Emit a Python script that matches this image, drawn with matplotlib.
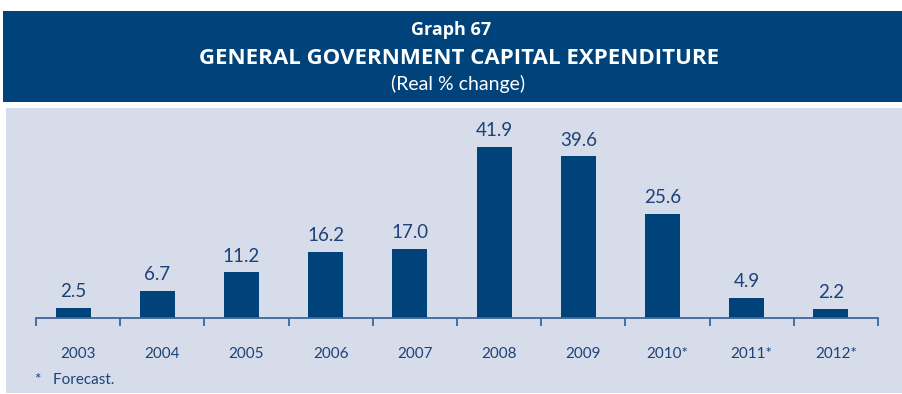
import matplotlib
matplotlib.use("Agg")
import matplotlib.pyplot as plt
import numpy as np
from matplotlib.patches import Rectangle

# Data
years = ["2003", "2004", "2005", "2006", "2007", "2008", "2009", "2010*", "2011*", "2012*"]
values = [2.5, 6.7, 11.2, 16.2, 17.0, 41.9, 39.6, 25.6, 4.9, 2.2]
value_labels = ["2.5", "6.7", "11.2", "16.2", "17.0", "41.9", "39.6", "25.6", "4.9", "2.2"]

title_line1 = "Graph 67"
title_line2 = "GENERAL GOVERNMENT CAPITAL EXPENDITURE"
title_line3 = "(Real % change)"
footnote = "*   Forecast."

W, H = 902, 394
DARK = "#00427a"
TEXT = "#1d4278"
PANEL = "#d6dcea"
AXIS = "#3d6697"
FONT = ["Lato", "DejaVu Sans"]
BOLD = ["Open Sans", "DejaVu Sans"]

fig = plt.figure(figsize=(W / 100, H / 100), dpi=100)
fig.patch.set_facecolor("white")

def px(x, y):
    return x / W, 1 - y / H

# header band
fig.patches.append(Rectangle((3 / W, 1 - 102 / H), (W - 3) / W, 91 / H,
                             transform=fig.transFigure, facecolor=DARK,
                             edgecolor="none", zorder=-2))
# chart panel
fig.patches.append(Rectangle((6 / W, 1 - 393 / H), (W - 6) / W, 285 / H,
                             transform=fig.transFigure, facecolor=PANEL,
                             edgecolor="none", zorder=-2))

fig.text(*px(451, 30), title_line1, color="white", fontsize=13, fontweight="bold",
         ha="center", va="center", family=BOLD)
fig.text(*px(459, 58), title_line2, color="white", fontsize=16, fontweight="bold",
         ha="center", va="center", family=BOLD)
fig.text(*px(458, 84), title_line3, color="white", fontsize=14,
         ha="center", va="center", family=FONT)

# plotting axes: baseline at y=318 px, 4.08 px per unit
ax_left, ax_right, base = 36, 878, 318
ymax = 50
ax_h = ymax * 4.08
ax = fig.add_axes([ax_left / W, 1 - base / H, (ax_right - ax_left) / W, ax_h / H])
ax.set_facecolor("none")

x = np.arange(len(years))
bar_off = -0.06
ax.bar(x + bar_off, values, width=0.415, color=DARK, zorder=2)
for xi, v, lab in zip(x, values, value_labels):
    ax.annotate(lab, (xi + bar_off, v), xytext=(0, 5.5), textcoords="offset points",
                ha="center", va="bottom", color=TEXT, fontsize=13.5, family=FONT)

ax.set_xlim(-0.5, len(years) - 0.5)
ax.set_ylim(0, ymax)
for s in ["top", "right", "left"]:
    ax.spines[s].set_visible(False)
ax.spines["bottom"].set_color(AXIS)
ax.spines["bottom"].set_linewidth(1.3)
ax.set_yticks([])
ax.set_xticks(np.arange(-0.5, len(years)), labels=[""] * (len(years) + 1))
ax.tick_params(axis="x", which="major", direction="out", length=6, width=1.3, color=AXIS)
ax.set_xticks(x, labels=years, minor=True)
ax.tick_params(axis="x", which="minor", length=0, pad=21, labelcolor=TEXT, labelsize=11)
for t in ax.get_xticklabels(minor=True):
    t.set_family(FONT)

fig.text(*px(35, 380), footnote, color=TEXT, fontsize=11, ha="left", va="center", family=FONT)

fig.savefig("out.png", dpi=100, facecolor=fig.get_facecolor())
